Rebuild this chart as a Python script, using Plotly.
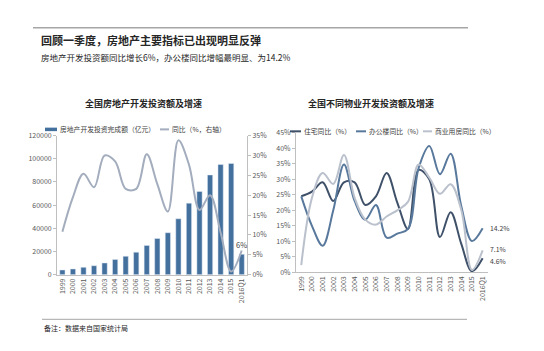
import plotly.graph_objects as go

years = ["1999","2000","2001","2002","2003","2004","2005","2006","2007","2008",
         "2009","2010","2011","2012","2013","2014","2015","2016Q1"]
invest = [4103, 4984, 6344, 7791, 10154, 13158, 15909, 19423, 25289, 31203,
          36232, 48259, 61740, 71804, 86013, 95036, 95979, 17677]
invest_yoy = [10.8, 19.5, 25.4, 22.0, 30.0, 28.5, 21.6, 21.6, 30.3, 22.8,
              15.9, 33.8, 27.7, 16.3, 20.0, 10.6, 0.8, 6.1]
resid_yoy = [24.5, 26.0, 29.0, 23.0, 29.0, 29.0, 21.7, 24.5, 32.0, 22.5,
             14.0, 33.0, 30.0, 11.4, 19.4, 9.2, 0.4, 4.6]
office_yoy = [24.5, 15.0, 8.6, 20.0, 34.7, 23.0, 17.0, 21.7, 11.2, 12.5,
              14.0, 33.6, 40.7, 31.6, 38.2, 21.3, 10.1, 14.2]
comm_yoy = [2.4, 24.0, 32.0, 28.5, 37.8, 24.0, 17.0, 15.4, 18.0, 20.0,
            22.7, 34.7, 30.5, 25.3, 28.4, 20.1, 0.8, 7.1]

legend_left = ["房地产开发投资完成额（亿元）", "同比（%，右轴）"]
legend_right = ["住宅同比（%）", "办公楼同比（%）", "商业用房同比（%）"]

FONT = "Noto Sans CJK SC"
TXT = "#404040"
AX = "#BFBFBF"
C_BAR = "#44709E"
C_YOY = "#A3ADBD"
C_RES = "#3F5069"
C_OFF = "#58789C"
C_COM = "#BAC1CC"

fig = go.Figure()
fig.add_trace(go.Bar(x=years, y=invest, name=legend_left[0],
                     marker_color=C_BAR, width=0.5, xaxis="x", yaxis="y"))
fig.add_trace(go.Scatter(x=years, y=[v/100 for v in invest_yoy], name=legend_left[1],
                         mode="lines", line=dict(color=C_YOY, width=2, shape="spline", smoothing=1.0),
                         xaxis="x", yaxis="y2"))
fig.add_trace(go.Scatter(x=years, y=[v/100 for v in resid_yoy], name=legend_right[0],
                         mode="lines", line=dict(color=C_RES, width=2, shape="spline", smoothing=1.0),
                         xaxis="x2", yaxis="y3"))
fig.add_trace(go.Scatter(x=years, y=[v/100 for v in office_yoy], name=legend_right[1],
                         mode="lines", line=dict(color=C_OFF, width=2, shape="spline", smoothing=1.0),
                         xaxis="x2", yaxis="y3"))
fig.add_trace(go.Scatter(x=years, y=[v/100 for v in comm_yoy], name=legend_right[2],
                         mode="lines", line=dict(color=C_COM, width=2, shape="spline", smoothing=1.0),
                         xaxis="x2", yaxis="y3"))

tickfont = dict(family=FONT, size=7, color="#595959")
common_x = dict(type="category", tickangle=-90, tickfont=tickfont, showline=True,
                linecolor=AX, linewidth=1, ticks="", showgrid=False, range=[-0.5, 17.5])
common_y = dict(showgrid=False, zeroline=False, showline=True, linecolor=AX, linewidth=1,
                ticks="outside", ticklen=3, tickcolor=AX, tickfont=tickfont)

fig.update_layout(
    width=544, height=351, margin=dict(l=0, r=0, t=0, b=0),
    paper_bgcolor="white", plot_bgcolor="white",
    font=dict(family=FONT, color=TXT),
    showlegend=False,
    xaxis=dict(domain=[0.105, 0.454], anchor="y", **common_x),
    yaxis=dict(domain=[0.212, 0.620], anchor="x", range=[0, 120000], dtick=20000,
               tickformat="d", **common_y),
    yaxis2=dict(overlaying="y", side="right", anchor="x", range=[0, 0.35], dtick=0.05,
                tickformat=".0%", **common_y),
    xaxis2=dict(domain=[0.544, 0.897], anchor="y3", **common_x),
    yaxis3=dict(domain=[0.2185, 0.6288], anchor="x2", range=[0, 0.45], dtick=0.05,
                tickformat=".0%", **common_y),
)

def px(x):
    return x / 544

def py(y):
    return 1 - y / 351

def ann(text, x, y, size, xanchor="left", color="#262626", bold=False):
    return dict(text=f"<b>{text}</b>" if bold else text, x=px(x), y=py(y),
                xref="paper", yref="paper", xanchor=xanchor, yanchor="middle",
                showarrow=False, font=dict(family=FONT, size=size, color=color))

def end_label(text, val, yshift):
    return dict(text=text, x="2016Q1", y=val/100, xref="x2", yref="y3", xanchor="left",
                xshift=5, yanchor="middle", yshift=yshift, showarrow=False,
                font=dict(family=FONT, size=6.8, color=TXT))

annotations = [
    ann("回顾一季度，房地产主要指标已出现明显反弹", 39, 35, 11, bold=True),
    ann("房地产开发投资额同比增长6%，办公楼同比增幅最明显、为14.2%", 39, 52, 8.5),
    ann("全国房地产开发投资额及增速", 143, 100, 9, xanchor="center", bold=True),
    ann("全国不同物业开发投资额及增速", 371, 100, 9, xanchor="center", bold=True),
    ann("备注：数据来自国家统计局", 42, 331, 7),
    # legends
    ann(legend_left[0], 58, 127, 6.8, color=TXT),
    ann(legend_left[1], 170, 127, 6.8, color=TXT),
    ann(legend_right[0], 302, 129, 6.8, color=TXT),
    ann(legend_right[1], 367, 129, 6.8, color=TXT),
    ann(legend_right[2], 433, 129, 6.8, color=TXT),
    # data labels
    dict(text="6%", x="2016Q1", y=0.075, xref="x", yref="y2", xanchor="center", yanchor="middle",
         showarrow=False, font=dict(family=FONT, size=7.5, color=TXT)),
    end_label("14.2%", office_yoy[-1], 0),
    end_label("7.1%", comm_yoy[-1], 1.5),
    end_label("4.6%", resid_yoy[-1], -2.5),
]
fig.update_layout(annotations=annotations)

def hline(x0, x1, y, color, width):
    return dict(type="line", xref="paper", yref="paper", x0=px(x0), x1=px(x1),
                y0=py(y), y1=py(y), line=dict(color=color, width=width))

fig.update_layout(shapes=[
    hline(33, 468, 22.5, "#A6A6A6", 1.5),
    hline(42, 467, 322.5, "#A6A6A6", 1),
    # legend swatches
    hline(45, 57, 127, C_BAR, 3.5),
    hline(160, 169, 127, C_YOY, 2),
    hline(290, 301, 129, C_RES, 2),
    hline(356, 366, 129, C_OFF, 2),
    hline(423, 432, 129, C_COM, 2),
])

fig.write_html("out.html")
